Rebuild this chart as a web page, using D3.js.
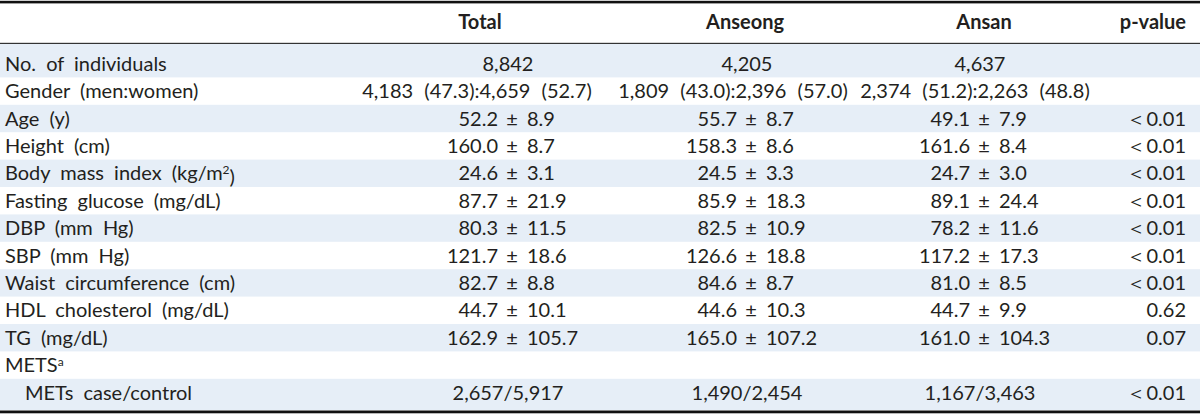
<!DOCTYPE html>
<html>
<head>
<meta charset="utf-8">
<script src="https://cdn.jsdelivr.net/npm/d3@7"></script>
<style>
  body { margin: 0; background: #fff; }
  text { font-family: Lato, "Open Sans", sans-serif; fill: #231f20; }
</style>
</head>
<body>
<div id="container"></div>
<script>
// Table content
let columns = ["Total", "Anseong", "Ansan", "p-value"];
let rowLabels = ["No. of individuals", "Gender (men:women)", "Age (y)", "Height (cm)",
  "Body mass index (kg/m2)", "Fasting glucose (mg/dL)", "DBP (mm Hg)", "SBP (mm Hg)",
  "Waist circumference (cm)", "HDL cholesterol (mg/dL)", "TG (mg/dL)", "METSa", "METs case/control"];

let individuals = ["8,842", "4,205", "4,637"];
let genderMen = [["4,183", "47.3"], ["1,809", "43.0"], ["2,374", "51.2"]];
let genderWomen = [["4,659", "52.7"], ["2,396", "57.0"], ["2,263", "48.8"]];

// mean / sd per column, rows 2..10
let totalMean   = ["52.2", "160.0", "24.6", "87.7", "80.3", "121.7", "82.7", "44.7", "162.9"];
let totalSd     = ["8.9", "8.7", "3.1", "21.9", "11.5", "18.6", "8.8", "10.1", "105.7"];
let anseongMean = ["55.7", "158.3", "24.5", "85.9", "82.5", "126.6", "84.6", "44.6", "165.0"];
let anseongSd   = ["8.7", "8.6", "3.3", "18.3", "10.9", "18.8", "8.7", "10.3", "107.2"];
let ansanMean   = ["49.1", "161.6", "24.7", "89.1", "78.2", "117.2", "81.0", "44.7", "161.0"];
let ansanSd     = ["7.9", "8.4", "3.0", "24.4", "11.6", "17.3", "8.5", "9.9", "104.3"];

let metsCaseControl = ["2,657/5,917", "1,490/2,454", "1,167/3,463"];
let pValues = ["", "", "<0.01", "<0.01", "<0.01", "<0.01", "<0.01", "<0.01", "<0.01", "0.62", "0.07", "", "<0.01"];

// Size
let chart_width = 1200;
let chart_height = 417;
let font_size = 20;

let svg = d3.select("#container")
  .append("svg")
  .attr("width", chart_width)
  .attr("height", chart_height);

// Row and column scales
let y = d3.scaleBand()
  .domain(d3.range(rowLabels.length))
  .range([50, 406.2]);

// header positions
let x = d3.scaleOrdinal()
  .domain(columns)
  .range([480, 745, 984, 1186]);

// value column centres (where the ± sits)
let groups = ["Total", "Anseong", "Ansan"];
let xv = d3.scaleOrdinal()
  .domain(groups)
  .range([512, 751, 984]);

// gender strings are set a little left of the column centre
let xg = d3.scaleOrdinal()
  .domain(groups)
  .range([477, 733, 975]);

// Shaded bands on every other row
svg.selectAll("rect.band")
  .data(d3.range(0, rowLabels.length, 2))
  .enter()
  .append("rect")
  .attr("class", "band")
  .attr("x", 0)
  .attr("width", chart_width)
  .attr("y", (d) => d === 0 ? 44 : y(d))
  .attr("height", (d) => {
    let top = d === 0 ? 44 : y(d);
    let bottom = d === rowLabels.length - 1 ? 410 : y(d) + y.bandwidth();
    return bottom - top;
  })
  .attr("fill", "#e6eef7");

// Rules
svg.append("rect").attr("x", 0).attr("y", 0.8).attr("width", chart_width).attr("height", 2.6).attr("fill", "#111");
svg.append("rect").attr("x", 0).attr("y", 42.8).attr("width", chart_width).attr("height", 1.2).attr("fill", "#333");
svg.append("rect").attr("x", 0).attr("y", 410.5).attr("width", chart_width).attr("height", 2.8).attr("fill", "#111");

// Header
svg.selectAll("text.head")
  .data(columns)
  .enter()
  .append("text")
  .attr("class", "head")
  .attr("x", (d) => x(d))
  .attr("y", 22)
  .attr("dy", "0.35em")
  .attr("text-anchor", (d) => d === "p-value" ? "end" : "middle")
  .style("font-size", font_size + "px")
  .style("font-weight", "bold")
  .text((d) => d);

let mid = (i) => y(i) + y.bandwidth() / 2;

// Row labels
let labels = svg.selectAll("text.label")
  .data(rowLabels)
  .enter()
  .append("text")
  .attr("class", "label")
  .attr("x", (d, i) => i === 12 ? 25 : 5)
  .attr("y", (d, i) => mid(i))
  .attr("dy", "0.35em")
  .style("font-size", font_size + "px")
  .style("word-spacing", "5px");

labels.each(function(d, i){
  let t = d3.select(this);
  if (i === 4) {
    t.append("tspan").text("Body mass index (kg/m");
    t.append("tspan").attr("dy", "-0.5em").style("font-size", "12px").text("2");
    t.append("tspan").attr("dy", "0.5em").text(")");
  } else if (i === 11) {
    t.append("tspan").text("METS");
    t.append("tspan").attr("dy", "-0.5em").style("font-size", "12px").text("a");
  } else {
    t.text(d);
  }
});

// Number of individuals
svg.selectAll("text.count")
  .data(individuals)
  .enter()
  .append("text")
  .attr("x", (d, i) => xv(groups[i]) - 4)
  .attr("y", mid(0))
  .attr("dy", "0.35em")
  .attr("text-anchor", "middle")
  .style("font-size", font_size + "px")
  .text((d) => d);

// Gender
svg.selectAll("text.gender")
  .data(groups)
  .enter()
  .append("text")
  .attr("x", (d) => xg(d))
  .attr("y", mid(1))
  .attr("dy", "0.35em")
  .attr("text-anchor", "middle")
  .style("font-size", font_size + "px")
  .style("word-spacing", "6px")
  .text((d, i) => genderMen[i][0] + " (" + genderMen[i][1] + "):" + genderWomen[i][0] + " (" + genderWomen[i][1] + ")");

// Mean ± SD rows
let means = [totalMean, anseongMean, ansanMean];
let sds = [totalSd, anseongSd, ansanSd];
groups.forEach(function(g, gi){
  let rows = svg.append("g").selectAll("g")
    .data(means[gi])
    .enter()
    .append("g")
    .attr("transform", (d, k) => "translate(" + xv(g) + "," + mid(k + 2) + ")");
  rows.append("text")
    .attr("x", -14)
    .attr("dy", "0.35em")
    .attr("text-anchor", "end")
    .style("font-size", font_size + "px")
    .text((d) => d);
  rows.append("text")
    .attr("dy", "0.35em")
    .attr("text-anchor", "middle")
    .style("font-size", font_size + "px")
    .text("±");
  rows.append("text")
    .attr("x", 15)
    .attr("dy", "0.35em")
    .style("font-size", font_size + "px")
    .text((d, k) => sds[gi][k]);
});

// METs case/control
svg.selectAll("text.mets")
  .data(metsCaseControl)
  .enter()
  .append("text")
  .attr("x", (d, i) => xv(groups[i]) - 4)
  .attr("y", mid(12))
  .attr("dy", "0.35em")
  .attr("text-anchor", "middle")
  .style("font-size", font_size + "px")
  .text((d) => d);

// p-values
svg.selectAll("text.pval")
  .data(pValues)
  .enter()
  .append("text")
  .attr("x", x("p-value"))
  .attr("y", (d, i) => mid(i))
  .attr("dy", "0.35em")
  .attr("text-anchor", "end")
  .style("font-size", font_size + "px")
  .text((d) => d.replace("<", "\uFF1C"));
</script>
</body>
</html>
